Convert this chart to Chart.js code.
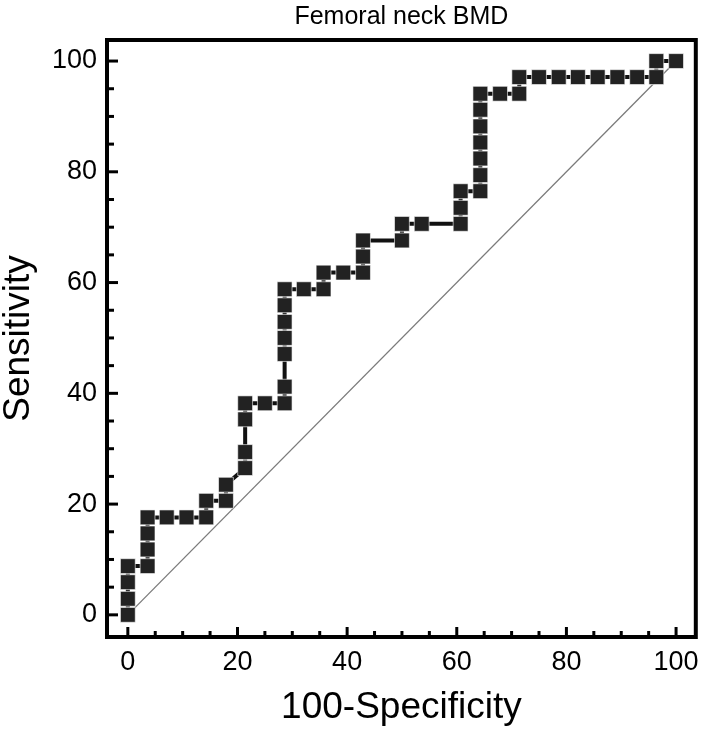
<!DOCTYPE html>
<html>
<head>
<meta charset="utf-8">
<script src="https://cdn.jsdelivr.net/npm/chart.js@4"></script>
<style>
  html, body { margin: 0; padding: 0; background: #fff; }
</style>
</head>
<body>
<canvas id="rocChart" width="708" height="734"></canvas>
<script>
// text
const chartTitle = 'Femoral neck BMD';
const xTitle = '100-Specificity';
const yTitle = 'Sensitivity';

// axis ticks (labels every 20, small marks every 5)
const labelTicks = [0, 20, 40, 60, 80, 100];
const minorTicks = [0, 5, 10, 15, 20, 25, 30, 35, 40, 45, 50, 55, 60, 65, 70, 75, 80, 85, 90, 95, 100];

// ROC curve points
const specComplement = [0, 0, 0, 0, 3.6, 3.6, 3.6, 3.6, 7.1, 10.7,
  14.3, 14.3, 17.9, 17.9, 21.4, 21.4, 21.4, 21.4, 25, 28.6,
  28.6, 28.6, 28.6, 28.6, 28.6, 28.6, 32.1, 35.7, 35.7, 39.3,
  42.9, 42.9, 42.9, 50, 50, 53.6, 60.7, 60.7, 60.7, 64.3,
  64.3, 64.3, 64.3, 64.3, 64.3, 64.3, 67.9, 71.4, 71.4, 75,
  78.6, 82.1, 85.7, 89.3, 92.9, 96.4, 96.4, 100];
const sensitivity = [0, 2.9, 5.9, 8.8, 8.8, 11.8, 14.7, 17.6, 17.6, 17.6,
  17.6, 20.6, 20.6, 23.5, 26.5, 29.4, 35.3, 38.2, 38.2, 38.2,
  41.2, 47.1, 50, 52.9, 55.9, 58.8, 58.8, 58.8, 61.8, 61.8,
  61.8, 64.7, 67.6, 67.6, 70.6, 70.6, 70.6, 73.5, 76.5, 76.5,
  79.4, 82.4, 85.3, 88.2, 91.2, 94.1, 94.1, 94.1, 97.1, 97.1,
  97.1, 97.1, 97.1, 97.1, 97.1, 97.1, 100, 100];

// chance line
const chanceX = [0, 100];
const chanceY = [0, 100];

const fontFamily = '"Liberation Sans", Arial, sans-serif';

// box around the plot + inward tick marks
const frameTicks = {
  id: 'frameTicks',
  beforeDatasetsDraw(chart) {
    const { ctx, chartArea: a, scales: { x, y } } = chart;
    ctx.save();
    ctx.strokeStyle = '#000';
    ctx.lineWidth = 3;
    minorTicks.forEach(v => {
      const major = labelTicks.includes(v);
      const px = x.getPixelForValue(v);
      ctx.beginPath();
      ctx.moveTo(px, a.bottom);
      ctx.lineTo(px, a.bottom - (major ? 10 : 6));
      ctx.stroke();
      const py = y.getPixelForValue(v);
      ctx.beginPath();
      ctx.moveTo(a.left, py);
      ctx.lineTo(a.left + (major ? 11 : 7), py);
      ctx.stroke();
    });
    ctx.lineWidth = 4;
    ctx.strokeRect(a.left, a.top, a.width, a.height);
    ctx.restore();
  }
};

const ctx = document.getElementById('rocChart').getContext('2d');
const rocChart = new Chart(ctx, {
  type: 'scatter',
  data: {
    datasets: [{
      label: 'ROC',
      data: specComplement.map((v, i) => ({ x: v, y: sensitivity[i] })),
      showLine: true,
      borderColor: '#111',
      borderWidth: 4,
      tension: 0,
      pointStyle: 'rect',
      pointRadius: 10.5,
      pointBackgroundColor: '#222',
      pointBorderColor: 'rgba(255,255,255,0.6)',
      pointBorderWidth: 1,
      clip: false,
      order: 1
    }, {
      label: 'chance',
      data: chanceX.map((v, i) => ({ x: v, y: chanceY[i] })),
      showLine: true,
      borderColor: '#7a7a7a',
      borderWidth: 1.3,
      pointRadius: 0,
      order: 2
    }]
  },
  options: {
    responsive: false,
    animation: false,
    devicePixelRatio: 1,
    layout: { padding: { left: 0, right: 3, top: 0, bottom: 0 } },
    plugins: {
      legend: { display: false },
      tooltip: { enabled: false },
      title: {
        display: true,
        text: chartTitle,
        fullSize: false,
        color: '#000',
        font: { family: fontFamily, size: 25, weight: 'normal', lineHeight: 1 },
        padding: { top: 5, bottom: 10 }
      }
    },
    scales: {
      x: {
        type: 'linear',
        min: -3.8,
        max: 103.6,
        afterBuildTicks: s => { s.ticks = labelTicks.map(v => ({ value: v })); },
        afterFit: s => { s.height = 97; },
        grid: { display: false, drawTicks: false },
        border: { display: false },
        ticks: { color: '#000', padding: 9, maxRotation: 0, font: { family: fontFamily, size: 27 } },
        title: {
          display: true, text: xTitle, color: '#000',
          font: { family: fontFamily, size: 37, lineHeight: 1 },
          padding: { top: 0, bottom: 8 }
        }
      },
      y: {
        type: 'linear',
        min: -4,
        max: 103.8,
        afterBuildTicks: s => { s.ticks = labelTicks.map(v => ({ value: v })); },
        afterFit: s => { s.width = 107; },
        grid: { display: false, drawTicks: false },
        border: { display: false },
        ticks: { color: '#000', padding: 10, font: { family: fontFamily, size: 27 } },
        title: {
          display: true, text: yTitle, color: '#000',
          font: { family: fontFamily, size: 37, lineHeight: 1 },
          padding: { top: 0, bottom: 0 }
        }
      }
    }
  },
  plugins: [frameTicks]
});
</script>
</body>
</html>
